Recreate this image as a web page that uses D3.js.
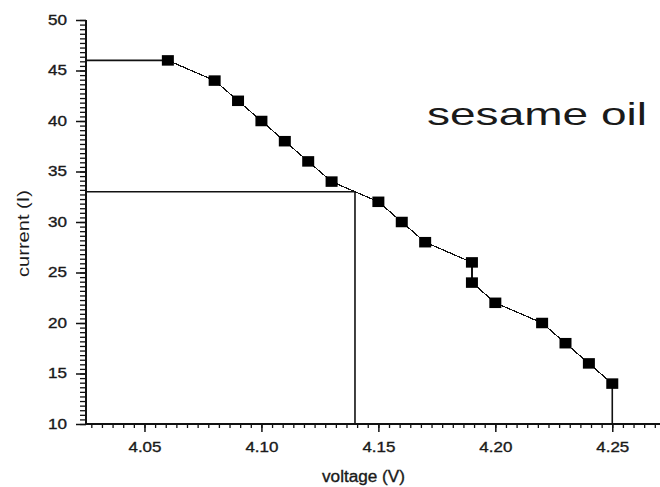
<!DOCTYPE html>
<html>
<head>
<meta charset="utf-8">
<script src="https://cdn.jsdelivr.net/npm/d3@7"></script>
<style>
html,body{margin:0;padding:0;background:#fff;}
svg{display:block;}
text{font-family:"Liberation Sans",Arial,sans-serif;fill:#1a1a1a;}
.tl{stroke:#1a1a1a;stroke-width:0.35;}
</style>
</head>
<body>
<svg id="chart" width="660" height="487"></svg>
<script>
// Data
const voltage = [4.06, 4.08, 4.09, 4.10, 4.11, 4.12, 4.13, 4.15, 4.16, 4.17, 4.19, 4.19, 4.20, 4.22, 4.23, 4.24, 4.25];
const current = [46, 44, 42, 40, 38, 36, 34, 32, 30, 28, 26, 24, 22, 20, 18, 16, 14];
const xTickValues = [4.05, 4.10, 4.15, 4.20, 4.25];
const xTickLabels = ["4.05", "4.10", "4.15", "4.20", "4.25"];
const yTickValues = [10, 15, 20, 25, 30, 35, 40, 45, 50];
const yTickLabels = ["10", "15", "20", "25", "30", "35", "40", "45", "50"];
// guide lines in data units
const guideStartV = [4.025, 46];    // horizontal to first point
const guideMid = [4.14, 33];         // crosshair point
const guideEnd = [4.25, 14];         // vertical drop of last point
const title = "sesame oil";
const xLabel = "voltage (V)";
const yLabel = "current (I)";

const svg = d3.select("#chart");
const x = d3.scaleLinear().domain([4.025, 4.275]).range([86, 670.75]);
const y = d3.scaleLinear().domain([10, 50]).range([424, 20]);

// minor ticks (10 minor ticks between majors)
const xMinor = [];
for (let v = 4.05 - 5 * 0.05 / 11; v < 4.28; v += 0.05 / 11) xMinor.push(+v.toFixed(6));
const yMinor = [];
for (let v = 10; v <= 50.0001; v += 5 / 11) yMinor.push(+v.toFixed(6));

// axes
const gx = svg.append("g").attr("transform", "translate(0,424)");
gx.call(d3.axisBottom(x).tickValues(xMinor).tickSize(4).tickFormat(""));
gx.selectAll("line").attr("stroke", "#111").attr("stroke-width", 1.3);
gx.select(".domain").remove();
const gxM = svg.append("g").attr("transform", "translate(0,424)");
gxM.call(d3.axisBottom(x).tickValues(xTickValues).tickSize(8).tickPadding(7)
  .tickFormat((d, i) => xTickLabels[i]));
gxM.selectAll("line").attr("stroke", "#111").attr("stroke-width", 1.5);
gxM.selectAll("text").attr("class", "tl").attr("font-size", 14).attr("textLength", 33)
  .attr("lengthAdjust", "spacingAndGlyphs").attr("fill", "#1a1a1a").attr("dy", "0.95em");
gxM.select(".domain").remove();

const gy = svg.append("g").attr("transform", "translate(86,0)");
gy.call(d3.axisLeft(y).tickValues(yMinor).tickSize(6).tickFormat(""));
gy.selectAll("line").attr("stroke", "#111").attr("stroke-width", 1.3);
gy.select(".domain").remove();
const gyM = svg.append("g").attr("transform", "translate(86,0)");
gyM.call(d3.axisLeft(y).tickValues(yTickValues).tickSize(10).tickPadding(9)
  .tickFormat((d, i) => yTickLabels[i]));
gyM.selectAll("line").attr("stroke", "#111").attr("stroke-width", 1.5);
gyM.selectAll("text").attr("class", "tl").attr("font-size", 14).attr("textLength", 19)
  .attr("lengthAdjust", "spacingAndGlyphs").attr("fill", "#1a1a1a");
gyM.select(".domain").remove();

// axis lines
svg.append("line").attr("x1", x(4.025)).attr("x2", 660).attr("y1", y(10)).attr("y2", y(10))
  .attr("stroke", "#111").attr("stroke-width", 2);
svg.append("line").attr("x1", x(4.025)).attr("x2", x(4.025)).attr("y1", y(10)).attr("y2", y(50))
  .attr("stroke", "#111").attr("stroke-width", 2);

// guide lines
const guides = [
  [guideStartV[0], guideStartV[1], voltage[0], current[0]],
  [4.025, guideMid[1], guideMid[0], guideMid[1]],
  [guideMid[0], guideMid[1], guideMid[0], 10],
  [guideEnd[0], guideEnd[1], guideEnd[0], 10]
];
svg.append("g").selectAll("line").data(guides).join("line")
  .attr("x1", d => x(d[0])).attr("y1", d => y(d[1]))
  .attr("x2", d => x(d[2])).attr("y2", d => y(d[3]))
  .attr("stroke", "#111").attr("stroke-width", 1.6);

// data line
const pts = voltage.map((v, i) => [v, current[i]]);
svg.append("path").datum(pts)
  .attr("d", d3.line().x(d => x(d[0])).y(d => y(d[1])))
  .attr("fill", "none").attr("stroke", "#111").attr("stroke-width", 1.2)
  .attr("shape-rendering", "crispEdges");

// markers
svg.append("g").selectAll("rect").data(pts).join("rect")
  .attr("x", d => x(d[0]) - 6).attr("y", d => y(d[1]) - 5.25)
  .attr("width", 12).attr("height", 10.5).attr("fill", "#000");

// texts
svg.append("text").attr("x", 427).attr("y", 125).attr("font-size", 32)
  .attr("textLength", 220).attr("lengthAdjust", "spacingAndGlyphs").text(title);
svg.append("text").attr("class", "tl").attr("x", 322).attr("y", 482).attr("font-size", 16)
  .attr("textLength", 83).attr("lengthAdjust", "spacingAndGlyphs").text(xLabel);
svg.append("text").attr("transform", "translate(29,277) rotate(-90)").attr("font-size", 17)
  .attr("textLength", 87).attr("lengthAdjust", "spacingAndGlyphs").text(yLabel);
</script>
</body>
</html>
